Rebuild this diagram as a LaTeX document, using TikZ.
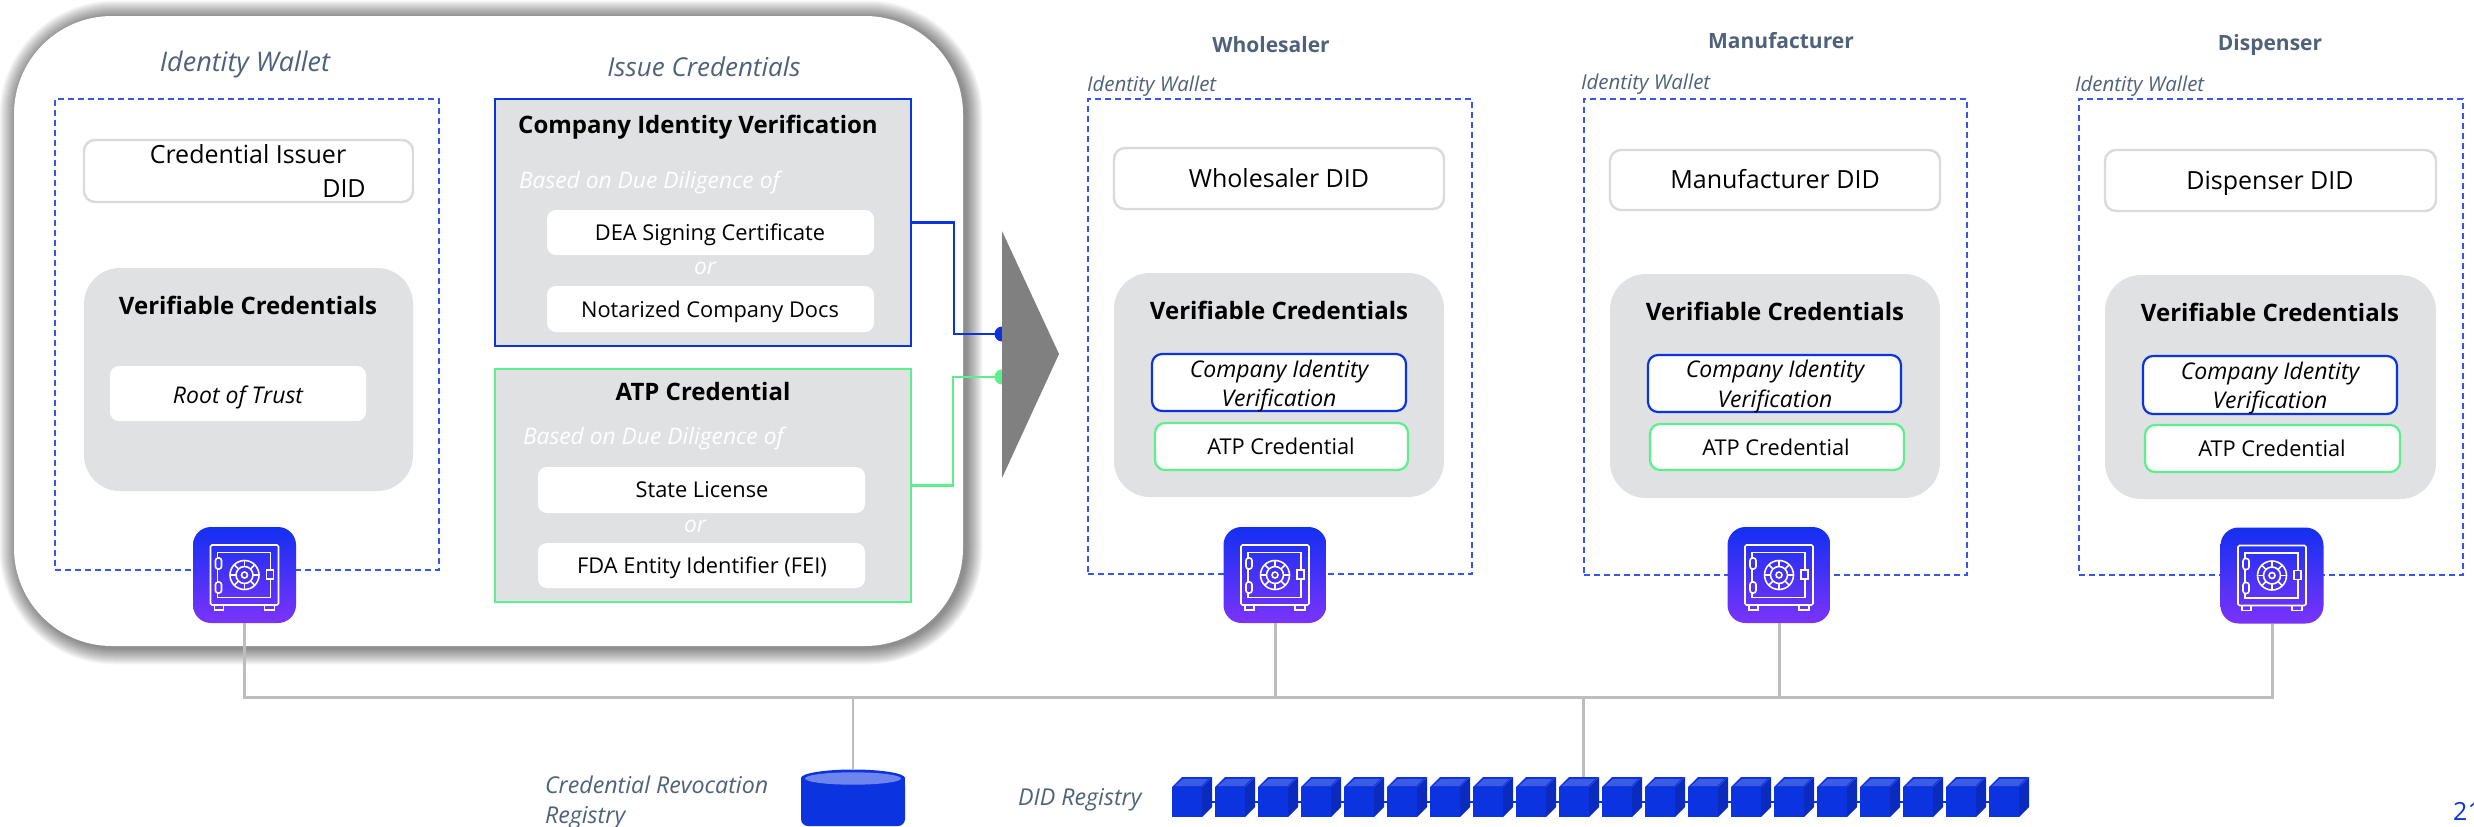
\documentclass[tikz,border=0pt]{standalone}
\usepackage{fontspec}
\setmainfont{Open Sans}
\usetikzlibrary{shadings}
\definecolor{vblue}{HTML}{0C33E0}
\definecolor{vgreen}{HTML}{5CF08C}
\definecolor{dashblue}{HTML}{3657EC}
\definecolor{panelgray}{HTML}{E0E1E3}
\definecolor{didgray}{HTML}{DADADA}
\definecolor{slate}{HTML}{4F6279}
\definecolor{busgray}{HTML}{BDBDBD}
\definecolor{safetop}{HTML}{1230F2}
\definecolor{safebot}{HTML}{7C33FB}
\tikzset{
  x=1pt,y=-1pt,
  box/.style={rectangle,inner sep=0pt,outer sep=0pt},
  wallet/.style={box,draw=dashblue,line width=1.8pt,dash pattern=on 6pt off 4pt},
  didbox/.style={box,fill=white,draw=didgray,line width=2.4pt,rounded corners=11pt},
  vcbox/.style={box,fill=panelgray,rounded corners=36pt},
  whitebox/.style={box,fill=white,rounded corners=9pt},
  bluecred/.style={box,fill=white,draw=vblue,line width=2.2pt,rounded corners=10pt},
  greencred/.style={box,fill=white,draw=vgreen,line width=2.2pt,rounded corners=10pt},
  issuebox/.style={box,fill=panelgray,line width=2.4pt},
  txt/.style={inner sep=0pt,outer sep=0pt,text depth=0pt,align=center},
  bigb/.style={txt,text height=17.1pt,font=\fontsize{24}{30}\selectfont\bfseries},
  reg/.style={txt,text height=17.85pt,font=\fontsize{25}{30}\selectfont},
  small/.style={txt,text height=15.6pt,font=\fontsize{21.8}{26}\selectfont},
  smalli/.style={txt,text height=16.4pt,font=\fontsize{23}{28}\selectfont\itshape},
  hint/.style={txt,text=white,text height=16.3pt,font=\fontsize{22.8}{28}\selectfont\itshape},
  heada/.style={txt,text=slate,text height=19.3pt,font=\fontsize{27}{32}\selectfont\itshape},
  headb/.style={txt,text=slate,text height=18.6pt,font=\fontsize{26}{32}\selectfont\itshape},
  party/.style={txt,text=slate,text height=15pt,font=\fontsize{21}{26}\selectfont\bfseries},
  wlabel/.style={txt,text=slate,anchor=west,text height=14.6pt,font=\fontsize{20.5}{24}\selectfont\itshape},
  reglabel/.style={txt,text=slate,anchor=west,text height=16.6pt,font=\fontsize{23.2}{28}\selectfont\itshape},
  bus/.style={draw=busgray,line width=3pt},
  safeicon/.style={box,rounded corners=18pt,top color=safetop,bottom color=safebot,minimum width=103pt,minimum height=96pt},
  iconline/.style={draw=white,line width=1.6pt}
}
% name, style, x0, y0, x1, y1
\newcommand{\bx}[6]{\node[#2,minimum width={(#5-#3)*1pt},minimum height={(#6-#4)*1pt}] (#1) at ({(#3+#5)/2},{(#4+#6)/2}) {};}
% name, centre x, centre y
\newcommand{\safe}[3]{%
  \node[safeicon] (#1) at (#2,#3) {};
  \begin{scope}[shift={(#2,#3)},iconline]
    \draw[rounded corners=1.5pt] (-34,-30) rectangle (34,30);
    \draw (-27,-22.5) rectangle (26,22.5);
    \draw (0,0) circle (14.5);
    \draw (0,0) circle (8.5);
    \draw (0,0) circle (3);
    \foreach \a in {0,45,...,315} {\draw (\a:8.5) -- (\a:14.5);}
    \draw[rounded corners=2.5pt,fill=safetop!60!safebot] (-29,-17) rectangle (-23,-6);
    \draw[rounded corners=2.5pt,fill=safetop!40!safebot] (-29,7) rectangle (-23,18);
    \draw[fill=safetop!50!safebot] (22,-5) rectangle (29,4);
    \draw (-30,30) rectangle (-21,35);
    \draw (20,30) rectangle (30,35);
  \end{scope}}
\begin{document}
\begin{tikzpicture}
\clip (0,0) rectangle (2474,827);
\fill[white] (0,0) rectangle (2474,827);
\coordinate (busline) at (0,697);
% ---- big panel with soft shadow
\foreach \s in {1,...,17} {
  \fill[black,opacity=.03,rounded corners={(98+\s)*1pt}]
    ({14+2.5-\s},{16+1.5-\s}) rectangle ({963+2.5+\s},{646+1.5+\s});
}
\bx{panel}{box,fill=white,rounded corners=98pt}{14}{16}{963}{646}
% ---- left wallet
\node[heada] (h1) at (245,62) {Identity Wallet};
\node[headb] (h2) at (704,67) {Issue Credentials};
\bx{w1}{wallet}{55}{99}{439}{570}
\bx{did1}{didbox}{84}{140}{413}{202}
\node[reg] (did1a) at (248,155) {Credential Issuer};
\node[reg] (did1b) at (344,189) {DID};
\bx{vc1}{vcbox}{84}{268}{413}{491}
\node[bigb] (vc1t) at (248,306) {Verifiable Credentials};
\bx{root}{whitebox}{110}{366}{366}{421}
\node[smalli] (roott) at (238,395) {Root of Trust};
\safe{s1}{244.5}{575}
% ---- issue boxes
\bx{comp}{issuebox,draw=vblue}{495}{99}{911}{346}
\node[bigb] (compt) at (698,125) {Company Identity Verification};
\node[hint,anchor=west] (compb) at (519,180) {Based on Due Diligence of};
\bx{dea}{whitebox}{547}{210}{874}{255}
\node[small] (deat) at (710,233) {DEA Signing Certificate};
\node[hint] (or1) at (705,266) {or};
\bx{nota}{whitebox}{547}{286}{874}{332}
\node[small] (notat) at (710,310) {Notarized Company Docs};
\bx{atp}{issuebox,draw=vgreen}{495}{369}{911}{602}
\node[bigb] (atpt) at (703,392) {ATP Credential};
\node[hint,anchor=west] (atpb) at (523,436) {Based on Due Diligence of};
\bx{state}{whitebox}{538}{467}{865}{513}
\node[small] (statet) at (702,490) {State License};
\node[hint] (or2) at (695,524) {or};
\bx{fda}{whitebox}{538}{543}{865}{588}
\node[small] (fdat) at (702,566) {FDA Entity Identifier (FEI)};
% ---- arrow with connector dots
\node[circle,fill=vblue,minimum size=15pt,inner sep=0pt] (dotb) at (1002,334) {};
\node[circle,fill=vgreen,minimum size=15pt,inner sep=0pt] (dotg) at (1002,377) {};
\coordinate (bendb) at (954,334);
\coordinate (bendg) at (953,377);
\draw[vblue,line width=2.2pt] (comp.east) -| (bendb) -- (dotb.center);
\draw[vgreen,line width=2.2pt] (atp.east) -| (bendg) -- (dotg.center);
\fill[gray] (1002,231) -- (1059,354) -- (1002,478) -- cycle;
% ---- Wholesaler
\node[party] (p2) at (1271,45) {Wholesaler};
\node[wlabel] (l2) at (1087,84) {Identity Wallet};
\bx{w2}{wallet}{1088}{99}{1472}{574}
\bx{did2}{didbox}{1114}{148}{1444}{209}
\node[reg] (did2t) at (1279,179) {Wholesaler DID};
\bx{vc2}{vcbox}{1114}{273}{1444}{497}
\node[bigb] (vc2t) at (1279,311) {Verifiable Credentials};
\bx{c2}{bluecred}{1152}{354}{1406}{411}
\node[smalli] (c2a) at (1279,369) {Company Identity};
\node[smalli] (c2b) at (1279,398) {Verification};
\bx{a2}{greencred}{1155}{423}{1408}{470}
\node[small] (a2t) at (1281,447) {ATP Credential};
\safe{s2}{1275}{575}
% ---- Manufacturer
\node[party] (p3) at (1781,41) {Manufacturer};
\node[wlabel] (l3) at (1581,82) {Identity Wallet};
\bx{w3}{wallet}{1584}{99}{1967}{575}
\bx{did3}{didbox}{1610}{150}{1940}{210}
\node[reg] (did3t) at (1775,180) {Manufacturer DID};
\bx{vc3}{vcbox}{1610}{274}{1940}{498}
\node[bigb] (vc3t) at (1775,312) {Verifiable Credentials};
\bx{c3}{bluecred}{1648}{355}{1901}{412}
\node[smalli] (c3a) at (1775,369) {Company Identity};
\node[smalli] (c3b) at (1775,399) {Verification};
\bx{a3}{greencred}{1650}{424}{1904}{470}
\node[small] (a3t) at (1776,448) {ATP Credential};
\safe{s3}{1779}{575}
% ---- Dispenser
\node[party] (p4) at (2270,43) {Dispenser};
\node[wlabel] (l4) at (2075,84) {Identity Wallet};
\bx{w4}{wallet}{2079}{99}{2463}{575}
\bx{did4}{didbox}{2105}{150}{2436}{211}
\node[reg] (did4t) at (2270,181) {Dispenser DID};
\bx{vc4}{vcbox}{2105}{275}{2436}{499}
\node[bigb] (vc4t) at (2270,313) {Verifiable Credentials};
\bx{c4}{bluecred}{2143}{356}{2397}{414}
\node[smalli] (c4a) at (2270,371) {Company Identity};
\node[smalli] (c4b) at (2270,400) {Verification};
\bx{a4}{greencred}{2145}{425}{2400}{472}
\node[small] (a4t) at (2272,449) {ATP Credential};
\safe{s4}{2272}{575.5}
% ---- registries
\coordinate (cyltop) at (853,770);
\coordinate (chaintop) at (1583,777);
\draw[bus] (s1.south) |- (s4.south |- busline) -- (s4.south);
\draw[bus] (s2.south) -- (s2.south |- busline);
\draw[bus] (s3.south) -- (s3.south |- busline);
\draw[bus,line width=2.2pt] (cyltop) -- (cyltop |- busline);
\draw[bus] (chaintop) -- (chaintop |- busline);
% cylinder
\fill[vblue,rounded corners=7pt] (801,778) -- (801,826) -- (905,826) -- (905,778) -- cycle;
\fill[vblue] (801,774) rectangle (905,790);
\fill[white] (795,760) rectangle (911,778);
\fill[vblue] (853,778) ellipse (52 and 8.5);
\fill[white!40!vblue] (853,778.5) ellipse (48 and 6.2);
\draw[bus,line width=2.2pt] (cyltop) -- (cyltop |- busline);
\node[reglabel] (crr1) at (545,785) {Credential Revocation};
\node[reglabel] (crr2) at (545,815) {Registry};
\node[reglabel] (didreg) at (1018,797) {DID Registry};
% chain of cubes
\coordinate (chainl) at (1172,802);
\coordinate (chainr) at (2029,802);
\draw[vblue,line width=2pt] (chainl) -- (chainr);
\foreach \i in {0,...,19} {
  \pgfmathsetmacro{\cx}{1172+43*\i}
  \fill[vblue] (\cx,787) rectangle ({\cx+30},817);
  \fill[vblue!85!black] ({\cx+30},787) -- ({\cx+40},777) -- ({\cx+40},807) -- ({\cx+30},817) -- cycle;
  \fill[vblue] (\cx,787) -- ({\cx+10},777) -- ({\cx+40},777) -- ({\cx+30},787) -- cycle;
  \fill[white!20!vblue] ({\cx+3},786) -- ({\cx+11},779) -- ({\cx+36},779) -- ({\cx+29},786) -- cycle;
}
\node[inner sep=0pt,anchor=base west,text=vblue,font=\fontsize{25}{30}\selectfont] (page) at (2453,820) {21};
\end{tikzpicture}
\end{document}
